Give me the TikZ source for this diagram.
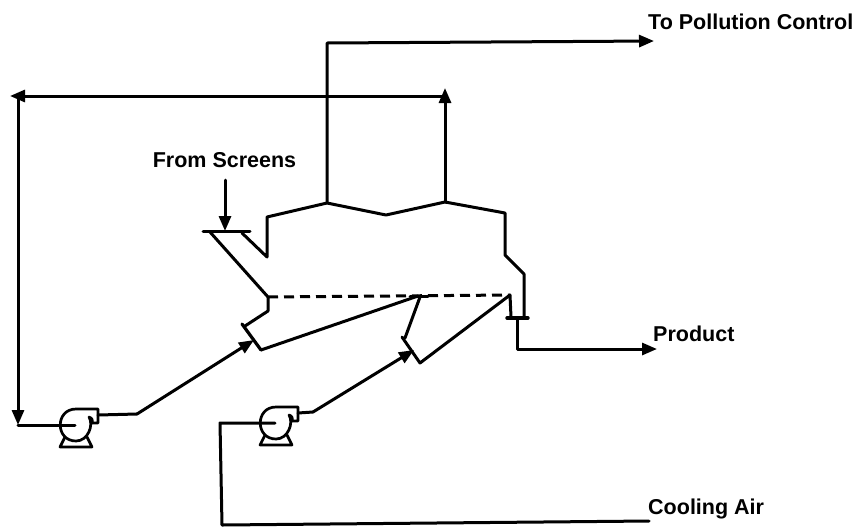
\documentclass[tikz,border=0pt]{standalone}
\usepackage{fontspec}
\setmainfont{Liberation Sans}
\usetikzlibrary{arrows.meta}
\tikzset{
  pipe/.style={line width=3pt,line join=round,line cap=round,black},
  thinpipe/.style={pipe,line width=2.7pt},
  flow/.style={pipe,-{Triangle[length=15pt,width=12pt]}},
  lbl/.style={font=\bfseries\fontsize{21.5}{23}\selectfont,inner sep=0pt,anchor=west,text=black},
}
\newcommand{\pumpat}[2]{%
  \begin{scope}[shift={(#1)}]
    \draw[thinpipe] (13,-8) .. controls (18,0) and (12,16) .. (0,16) .. controls (-21,16) and (-21,-16) .. (0,-16) -- (22,-16) -- (22,-2) -- (16,-2) .. controls (17,-5) and (16,-7) .. (13,-8);
    \draw[thinpipe] (-11,12) -- (-16,22) -- (16,22) -- (11,12);
    \coordinate (#2in) at (-1,0);
    \coordinate (#2out) at (22,-10);
  \end{scope}}
\begin{document}
\begin{tikzpicture}[x=1pt,y=-1pt]
\useasboundingbox (0,0) rectangle (858,528);
\fill[white] (0,0) rectangle (858,528);
% labels
\node[lbl] (pollution) at (648,22) {To Pollution Control};
\node[lbl,anchor=center] (screens) at (224.5,160) {From Screens};
\node[lbl] (product) at (653,334) {Product};
\node[lbl] (cooling) at (648,509) {Cooling Air};
% coordinates
\coordinate (pollutionEnd) at (654,41);
\coordinate (pollutionCorner) at (327,43);
\coordinate (peakA) at (327,203);
\coordinate (peakB) at (445,202);
\coordinate (recycleCorner) at (445,96);
\coordinate (recycleTip) at (445,88);
\coordinate (recycleLeft) at (10,96);
\coordinate (recycleV) at (18,96);
\coordinate (pumpAjoin) at (18,425);
\coordinate (screensStart) at (225,180);
\coordinate (screensEnd) at (225,231);
\coordinate (productEnd) at (657,349);
% pumps
\pumpat{76,425}{pa}
\pumpat{276,423}{pb}
% vessel
\draw[pipe] (203,231) -- (250,231);
\draw[pipe] (242,233) -- (267,257) -- (267,217) -- (peakA) -- (386,215) -- (peakB) -- (505,213) -- (505,255) -- (524,274) -- (524,317);
\draw[pipe] (210,232) -- (268,297) -- (268,311) -- (245,326);
\draw[pipe,line width=3.2pt] (242,324) -- (261,350);
\draw[pipe] (261,350) -- (418,296);
\draw[pipe] (402,337) -- (420,363) -- (510,295) -- (511,317);
\draw[pipe] (405,338) -- (420,297);
\draw[pipe,line cap=butt,dash pattern=on 10pt off 6pt] (268,297) -- (510,295);
\draw[pipe] (410,296) -- (428,296);
\draw[pipe,line width=3.4pt] (507,318) -- (528,318);
% flows
\draw[flow] (peakA) -- (pollutionCorner) -- (pollutionEnd);
\draw[flow] (peakB) -- (recycleTip);
\draw[flow] (recycleCorner) -- (recycleLeft);
\draw[flow] (recycleV) -- (pumpAjoin);
\draw[pipe] (pumpAjoin) -- (pain);
\draw[pipe] (paout) -- (137,414);
\draw[flow] (137,414) -- (254,340);
\draw[pipe] (pbout) -- (313,412);
\draw[flow] (313,412) -- (414,350);
\draw[pipe] (pbin) -- (220,423) -- (222,525) -- (649,521);
\draw[flow] (screensStart) -- (screensEnd);
\draw[flow] (517,318) -- (517,349) -- (productEnd);
\end{tikzpicture}
\end{document}
